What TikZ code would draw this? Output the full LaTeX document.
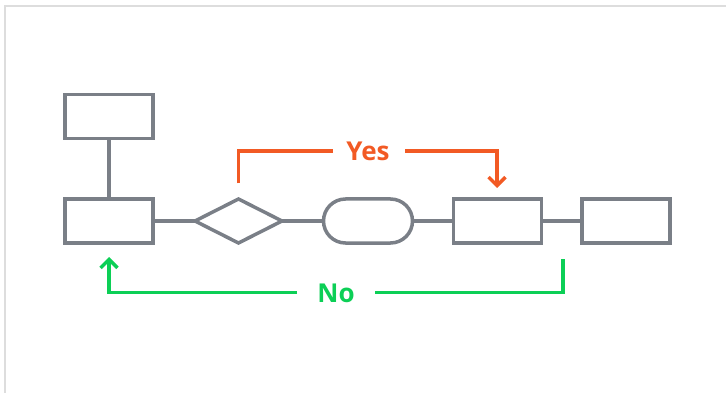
\documentclass[tikz,border=0pt]{standalone}
\usepackage{fontspec}
\setmainfont{Open Sans}
\usetikzlibrary{arrows.meta}
\definecolor{boxgray}{HTML}{7A7F87}
\definecolor{yesorange}{HTML}{F25A24}
\definecolor{nogreen}{HTML}{0CCF56}
\definecolor{framegray}{HTML}{DDDDDD}
\begin{document}
\begin{tikzpicture}[x=1pt,y=-1pt,
  box/.style={draw=boxgray,line width=3.5pt,minimum width=88pt,minimum height=44pt,inner sep=0pt},
  decision/.style={draw=boxgray,line width=3.5pt,inner sep=0pt},
  link/.style={draw=boxgray,line width=3.5pt},
  yespath/.style={draw=yesorange,line width=3.5pt},
  nopath/.style={draw=nogreen,line width=3.5pt},
  tip/.style={-{Straight Barb[length=8.5pt,width=17pt,line width=3.5pt]}},
  lbl/.style={font=\fontsize{26}{30}\selectfont\bfseries,inner sep=0pt}]
  \useasboundingbox (0,0) rectangle (726,393);
  % frame on the top and left
  \draw[framegray,line width=2pt] (5,393) -- (5,6.5) -- (726,6.5);

  % process chain
  \node[box] (top) at (109,116.5) {};
  \node[box] (start) at (109,221) {};
  \draw[decision] (195,221) -- (238.5,199) -- (282,221) -- (238.5,243) -- cycle;
  \coordinate (dl) at (195,221);
  \coordinate (dr) at (282,221);
  \coordinate (dt) at (238.5,199);
  \node[box,rounded corners=22pt,minimum width=89pt] (term) at (368,221) {};
  \node[box] (proc) at (497.5,221) {};
  \node[box] (last) at (626,221) {};

  \draw[link] (top) -- (start);
  \draw[link] (start.east) -- (dl);
  \draw[link] (dr) -- (term.west);
  \draw[link] (term.east) -- (proc.west);
  \draw[link] (proc.east) -- (last.west);

  % Yes branch
  \node[lbl,text=yesorange] (yes) at (368,151) {Yes};
  \coordinate (ys) at (238.5,183.5);
  \coordinate (yc1) at (238.5,151);
  \coordinate (yg1) at (333,151);
  \coordinate (yg2) at (405,151);
  \coordinate (yc2) at (497,151);
  \coordinate (ye) at (497,188);
  \draw[yespath] (ys) -- (yc1) -- (yg1);
  \draw[yespath,tip] (yg2) -- (yc2) -- (ye);

  % No branch
  \node[lbl,text=nogreen] (no) at (336,293) {No};
  \coordinate (ns) at (563,259);
  \coordinate (nc1) at (563,292.5);
  \coordinate (ng1) at (375,292.5);
  \coordinate (ng2) at (297,292.5);
  \coordinate (nc2) at (109,292.5);
  \coordinate (ne) at (109,257);
  \draw[nopath] (ns) -- (nc1) -- (ng1);
  \draw[nopath,tip] (ng2) -- (nc2) -- (ne);
\end{tikzpicture}
\end{document}
